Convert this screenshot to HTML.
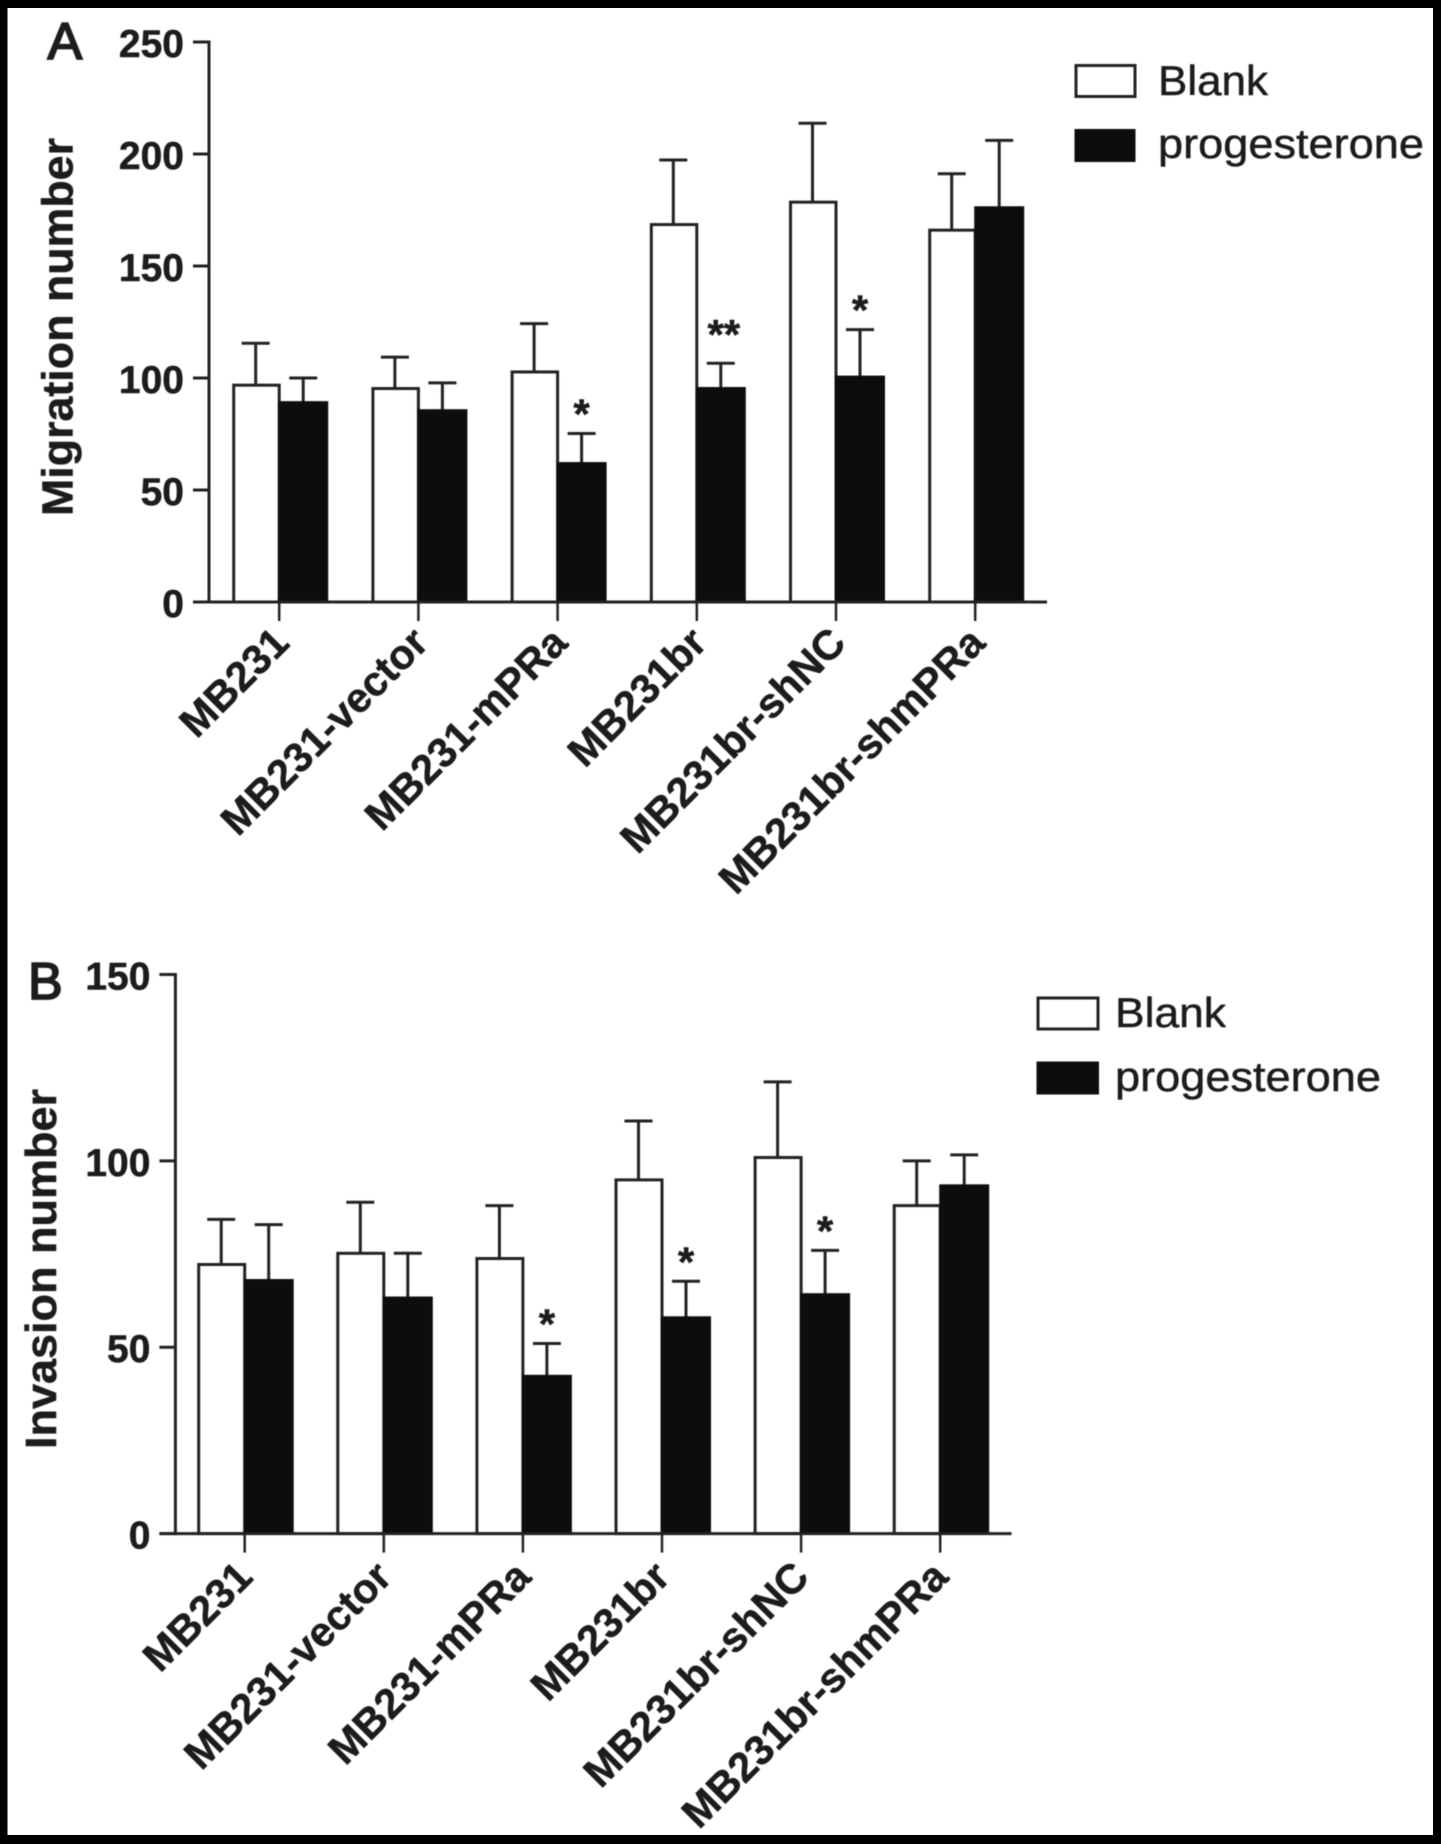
<!DOCTYPE html>
<html lang="en">
<head>
<meta charset="utf-8">
<title>Migration and invasion bar charts</title>
<style>
html,body{margin:0;padding:0;background:#000;}
body{width:1441px;height:1844px;overflow:hidden;}
svg{display:block;}
text{font-family:"Liberation Sans",Arial,sans-serif;fill:#1c1c1c;}
.bold{font-weight:bold;stroke:#1c1c1c;stroke-width:0.5px;}
.legend-text{stroke:#1c1c1c;stroke-width:0.5px;}
</style>
</head>
<body>
<svg id="figure" xmlns="http://www.w3.org/2000/svg" width="1441" height="1844" viewBox="0 0 1441 1844">
  <rect x="0" y="0" width="1441" height="1844" fill="#000"/>
  <rect x="7.5" y="8" width="1425.5" height="1827" fill="#fff"/>
  <g id="content" style="filter:blur(0.6px)">
    <text x="47.5" y="59" font-size="52" stroke="#1c1c1c" stroke-width="1.8">A</text>
    <text x="28" y="999" font-size="52" stroke="#1c1c1c" stroke-width="1.8">B</text>

    <text class="bold" transform="translate(72.5 327) rotate(-90)" text-anchor="middle" font-size="44" textLength="378" lengthAdjust="spacingAndGlyphs">Migration number</text>
    <text class="bold" transform="translate(56 1269) rotate(-90)" text-anchor="middle" font-size="44" textLength="360" lengthAdjust="spacingAndGlyphs">Invasion number</text>

    <g>
      <rect x="1076" y="65.5" width="59" height="31" fill="#fff" stroke="#222" stroke-width="3"/>
      <text class="legend-text" x="1158" y="95" font-size="42" textLength="110" lengthAdjust="spacingAndGlyphs">Blank</text>
      <rect x="1074.5" y="129" width="61" height="33" fill="#0d0d0d"/>
      <text class="legend-text" x="1158" y="158" font-size="42" textLength="266" lengthAdjust="spacingAndGlyphs">progesterone</text>
    </g>
    <g>
      <rect x="1038" y="998" width="60" height="31" fill="#fff" stroke="#222" stroke-width="3"/>
      <text class="legend-text" x="1115" y="1027" font-size="42" textLength="111" lengthAdjust="spacingAndGlyphs">Blank</text>
      <rect x="1036.5" y="1061.5" width="62.5" height="33" fill="#0d0d0d"/>
      <text class="legend-text" x="1115" y="1091" font-size="42" textLength="266" lengthAdjust="spacingAndGlyphs">progesterone</text>
    </g>
    <g id="chart-a"></g>
    <g id="chart-b"></g>
  </g>
</svg>
<script>
// Shared categories
var categories = ["MB231", "MB231-vector", "MB231-mPRa", "MB231br", "MB231br-shNC", "MB231br-shmPRa"];

// Panel A: migration number
var migrationTicks = [0, 50, 100, 150, 200, 250];
var migrationBlank = [96.8, 95.3, 102.7, 168.5, 178.5, 166];
var migrationProgesterone = [89, 85.4, 61.8, 95.3, 100.4, 176];
var migrationBlankError = [18.7, 14, 21.6, 28.8, 35.2, 25.2];
var migrationProgesteroneError = [11, 12.4, 13.4, 11.3, 21.2, 30.1];
var migrationSignificance = ["", "", "*", "**", "*", ""];

// Panel B: invasion number
var invasionTicks = [0, 50, 100, 150];
var invasionBlank = [72.2, 75.2, 73.8, 94.9, 100.9, 88];
var invasionProgesterone = [67.9, 63.2, 42.2, 57.9, 64.1, 93.3];
var invasionBlankError = [12.1, 13.7, 14.2, 15.8, 20.3, 12];
var invasionProgesteroneError = [15, 12, 8.8, 9.8, 11.9, 8.3];
var invasionSignificance = ["", "", "*", "*", "*", ""];

var SVG_NS = "http://www.w3.org/2000/svg";
var INK = "#222";
var DARK = "#0d0d0d";

function el(tag, attrs, parent) {
  var node = document.createElementNS(SVG_NS, tag);
  for (var k in attrs) node.setAttribute(k, attrs[k]);
  parent.appendChild(node);
  return node;
}

function drawChart(parent, geom, ticks, blank, prog, blankErr, progErr, stars, prefix) {
  var yScale = function (v) { return geom.y0 - (v - ticks[0]) * (geom.y0 - geom.yTop) / (ticks[ticks.length - 1] - ticks[0]); };
  var xScale = function (i) { return geom.c0 + geom.step * i; };
  var capHalf = 14;

  // error bars sit behind the bars
  categories.forEach(function (cat, i) {
    var c = xScale(i);
    [[c - 23.5, blank[i], blankErr[i], "blank"], [c + 24, prog[i], progErr[i], "progesterone"]].forEach(function (s) {
      var stem = el("line", {x1: s[0], x2: s[0], y1: yScale(s[1]), y2: yScale(s[1] + s[2]), stroke: INK, "stroke-width": 3}, parent);
      
      
      var cap = el("line", {x1: s[0] - capHalf, x2: s[0] + capHalf, y1: yScale(s[1] + s[2]), y2: yScale(s[1] + s[2]), stroke: INK, "stroke-width": 3}, parent);
      
      
    });
  });

  // bars
  categories.forEach(function (cat, i) {
    var c = xScale(i);
    var blankBar = el("rect", {x: c - geom.blankWidth, y: yScale(blank[i]), width: geom.blankWidth, height: geom.y0 - yScale(blank[i]), fill: "#fff", stroke: INK, "stroke-width": 3}, parent);
    
    
    var progBar = el("rect", {x: c - 1, y: yScale(prog[i]) - 1.5, width: 50, height: geom.y0 - yScale(prog[i]) + 1.5, fill: DARK}, parent);
    
    

    if (stars[i]) {
      var lift = stars[i].length > 1 ? 14 : 5;
      var star = el("text", {x: c + 24 + (stars[i].length > 1 ? 3 : 0), y: yScale(prog[i] + progErr[i]) - lift, "font-size": 42, "text-anchor": "middle", "class": "bold"}, parent);
      
      
      star.textContent = stars[i];
    }
  });

  // axes
  var yAxis = el("line", {x1: geom.axisX, x2: geom.axisX, y1: geom.yTop - 1.5, y2: geom.y0 + 1.5, stroke: INK, "stroke-width": 3}, parent);
  
  
  var xAxis = el("line", {x1: geom.axisX - 16, x2: geom.xEnd, y1: geom.y0, y2: geom.y0, stroke: INK, "stroke-width": 3}, parent);
  
  

  ticks.forEach(function (t) {
    var y = yScale(t);
    var tick = el("line", {x1: geom.axisX - 16, x2: geom.axisX, y1: y, y2: y, stroke: INK, "stroke-width": 3}, parent);
    
    
    var label = el("text", {x: geom.axisX - 25, y: y + 15, "font-size": 39, "text-anchor": "end", "class": "bold"}, parent);
    
    
    label.textContent = t;
  });

  categories.forEach(function (cat, i) {
    var c = xScale(i);
    var tick = el("line", {x1: c, x2: c, y1: geom.y0, y2: geom.y0 + 19, stroke: INK, "stroke-width": 2.5}, parent);
    
    
    var lx = c + geom.labelDx, ly = geom.y0 + geom.labelDy;
    var label = el("text", {transform: "translate(" + lx + " " + ly + ") rotate(-45)", "font-size": 41.5, "text-anchor": "end", "class": "bold"}, parent);
    
    
    label.textContent = cat;
  });
}

drawChart(document.getElementById("chart-a"),
  {axisX: 209, y0: 602, yTop: 42, c0: 279.2, step: 139.2, xEnd: 1047, labelDx: 12, labelDy: 43, blankWidth: 45.5},
  migrationTicks, migrationBlank, migrationProgesterone, migrationBlankError, migrationProgesteroneError, migrationSignificance, "migration");

drawChart(document.getElementById("chart-b"),
  {axisX: 175.4, y0: 1533.6, yTop: 974.5, c0: 244.7, step: 139.1, xEnd: 1011.5, labelDx: 10, labelDy: 45.5, blankWidth: 46},
  invasionTicks, invasionBlank, invasionProgesterone, invasionBlankError, invasionProgesteroneError, invasionSignificance, "invasion");
</script>
</body>
</html>
